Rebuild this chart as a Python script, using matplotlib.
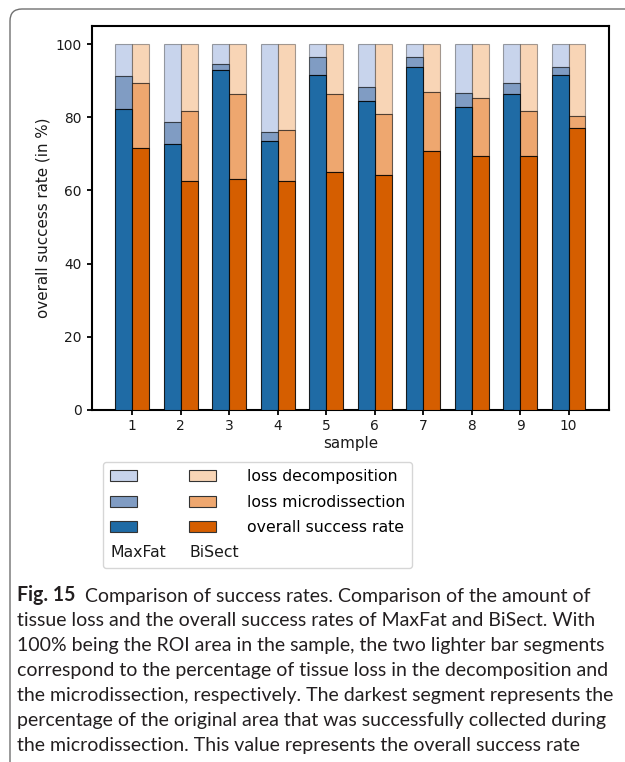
#!/usr/bin/env python
# -*- coding: UTF-8 -*-

r'''
Stacked bar comparison of the overall success rate and the tissue loss of MaxFat and BiSect,
with the figure caption below the chart

python plot.py
'''


OUT_FILE = 'out.png'

SAMPLES = [1, 2, 3, 4, 5, 6, 7, 8, 9, 10]

# values in % of the ROI area
MAXFAT_SUCCESS = [82.2, 72.8, 92.9, 73.4, 91.5, 84.6, 93.7, 82.8, 86.5, 91.5]
MAXFAT_LOSS_MICRO = [9.2, 5.8, 1.8, 2.7, 5.1, 3.6, 2.9, 3.8, 3.0, 2.4]
MAXFAT_LOSS_DECOMP = [8.6, 21.4, 5.3, 23.9, 3.4, 11.8, 3.4, 13.4, 10.5, 6.1]

BISECT_SUCCESS = [71.7, 62.7, 63.1, 62.5, 65.1, 64.1, 70.9, 69.3, 69.3, 77.2]
BISECT_LOSS_MICRO = [17.7, 19.1, 23.4, 14.1, 21.4, 16.9, 16.1, 16.1, 12.4, 3.3]
BISECT_LOSS_DECOMP = [10.6, 18.2, 13.5, 23.4, 13.5, 19.0, 13.0, 14.6, 18.3, 19.5]

SEGMENT_LABELS = ['loss decomposition', 'loss microdissection', 'overall success rate']
METHODS = ['MaxFat', 'BiSect']

CAPTION_HEAD = 'Fig. 15'
CAPTION_LINES = [
	'  Comparison of success rates. Comparison of the amount of',
	'tissue loss and the overall success rates of MaxFat and BiSect. With',
	'100% being the ROI area in the sample, the two lighter bar segments',
	'correspond to the percentage of tissue loss in the decomposition and',
	'the microdissection, respectively. The darkest segment represents the',
	'percentage of the original area that was successfully collected during',
	'the microdissection. This value represents the overall success rate',
]


import numpy as np
import matplotlib
matplotlib.use('Agg')
import matplotlib.pyplot as plt
from matplotlib.patches import Patch, FancyBboxPatch
from matplotlib.legend_handler import HandlerBase
from matplotlib.text import Text, Annotation
from matplotlib.transforms import IdentityTransform


BLUES = ['#c8d4ec', '#809cc3', '#1f6ba5']     # decomposition, micro, success
ORANGES = ['#f8d5b6', '#eea76f', '#d55e00']
EDGES = [(0, 0, 0, 0.35), (0, 0, 0, 0.6), (0, 0, 0, 0.85)]
WIDTH = 0.35
CAPTION_FONT = 'Lato'
CAPTION_COLOR = '#231f20'


class LegendText(object):
	'''text used in place of a legend handle'''
	def __init__(self, text):
		self.text = text


class HandlerLegendText(HandlerBase):
	def create_artists(self, legend, orig_handle, xdescent, ydescent, width, height, fontsize, trans):
		txt = Text(-xdescent, -ydescent + height/2, orig_handle.text, fontsize = fontsize,
				   ha = 'left', va = 'center', color = '#1a1a1a', transform = trans)
		return [txt]


def draw_stack(ax, x, success, loss_micro, loss_decomp, colors):
	'''
	Parameters
	ax: axes
	x: array of bar positions
	success, loss_micro, loss_decomp: lists of segment heights
	colors: list of str, colors for decomposition, micro and success
	'''
	
	success = np.asarray(success)
	loss_micro = np.asarray(loss_micro)
	loss_decomp = np.asarray(loss_decomp)
	
	ax.bar(x, success, WIDTH, color = colors[2], edgecolor = EDGES[2], linewidth = 0.8, zorder = 3)
	ax.bar(x, loss_micro, WIDTH, bottom = success, color = colors[1], edgecolor = EDGES[1], linewidth = 0.8, zorder = 2)
	ax.bar(x, loss_decomp, WIDTH, bottom = success + loss_micro, color = colors[0], edgecolor = EDGES[0], linewidth = 0.8, zorder = 1)


def plot_chart(fig):
	
	ax = fig.add_axes([91.7/625, 1 - 409.7/762, (609 - 91.7)/625, (409.7 - 26)/762])
	
	x = np.asarray(SAMPLES, dtype = float)
	draw_stack(ax, x - WIDTH/2, MAXFAT_SUCCESS, MAXFAT_LOSS_MICRO, MAXFAT_LOSS_DECOMP, BLUES)
	draw_stack(ax, x + WIDTH/2, BISECT_SUCCESS, BISECT_LOSS_MICRO, BISECT_LOSS_DECOMP, ORANGES)
	
	ax.set_xticks(SAMPLES)
	ax.set_yticks([0, 20, 40, 60, 80, 100])
	ax.tick_params(labelsize = 9.9, width = 1.3, color = 'black', labelcolor = '#1a1a1a')
	for spine in ax.spines.values():
		spine.set_linewidth(1.5)
	ax.set_xlabel('sample', fontsize = 10.9, labelpad = 2, color = '#1a1a1a')
	ax.set_ylabel('overall success rate (in %)', fontsize = 10.9, color = '#1a1a1a')
	
	handles = []
	labels = []
	for colors, method in zip([BLUES, ORANGES], METHODS):
		for i in range(3):
			handles.append(Patch(facecolor = colors[i], edgecolor = '#333333', linewidth = 0.8))
			labels.append(SEGMENT_LABELS[i] if method == 'BiSect' else '')
		handles.append(LegendText(method))
		labels.append('')
	
	ax.legend(handles, labels, ncol = 2, loc = 'upper left', bbox_to_anchor = (103/625, 1 - 462/762),
			  bbox_transform = fig.transFigure, borderaxespad = 0, fontsize = 11.3, handlelength = 1.7,
			  handletextpad = 1.96, columnspacing = 1.4, borderpad = 0.45, labelspacing = 0.68,
			  handler_map = {LegendText: HandlerLegendText()})
	
	return ax


def plot_caption(fig):
	
	renderer = fig.canvas.get_renderer()
	
	# fit the font size so the widest line spans the caption width
	probe = fig.text(0, 0, CAPTION_LINES[3], family = CAPTION_FONT, fontsize = 12)
	w = probe.get_window_extent(renderer).width
	probe.remove()
	size = 12*591/w
	
	x0 = 17/625
	for i, line in enumerate(CAPTION_LINES):
		y = 1 - (601 + 25*i)/762
		if i == 0:
			head = fig.text(x0, y, CAPTION_HEAD, family = CAPTION_FONT, fontweight = 'bold',
							fontsize = size, color = CAPTION_COLOR)
			fig.add_artist(Annotation(line, xy = (1, 0), xycoords = head, va = 'bottom', ha = 'left',
									  family = CAPTION_FONT, fontsize = size, color = CAPTION_COLOR))
		else:
			fig.text(x0, y, line, family = CAPTION_FONT, fontsize = size, color = CAPTION_COLOR)


def plot_frame(fig):
	
	frame = FancyBboxPatch((10, -60), 700, 753 + 60, boxstyle = 'round,pad=0,rounding_size=12',
						   facecolor = 'none', edgecolor = '#707070', linewidth = 1.0,
						   transform = IdentityTransform())
	fig.add_artist(frame)


if __name__ == '__main__':
	
	fig = plt.figure(figsize = (6.25, 7.62), dpi = 100)
	
	plot_chart(fig)
	plot_caption(fig)
	plot_frame(fig)
	
	fig.savefig(OUT_FILE, dpi = 100)
